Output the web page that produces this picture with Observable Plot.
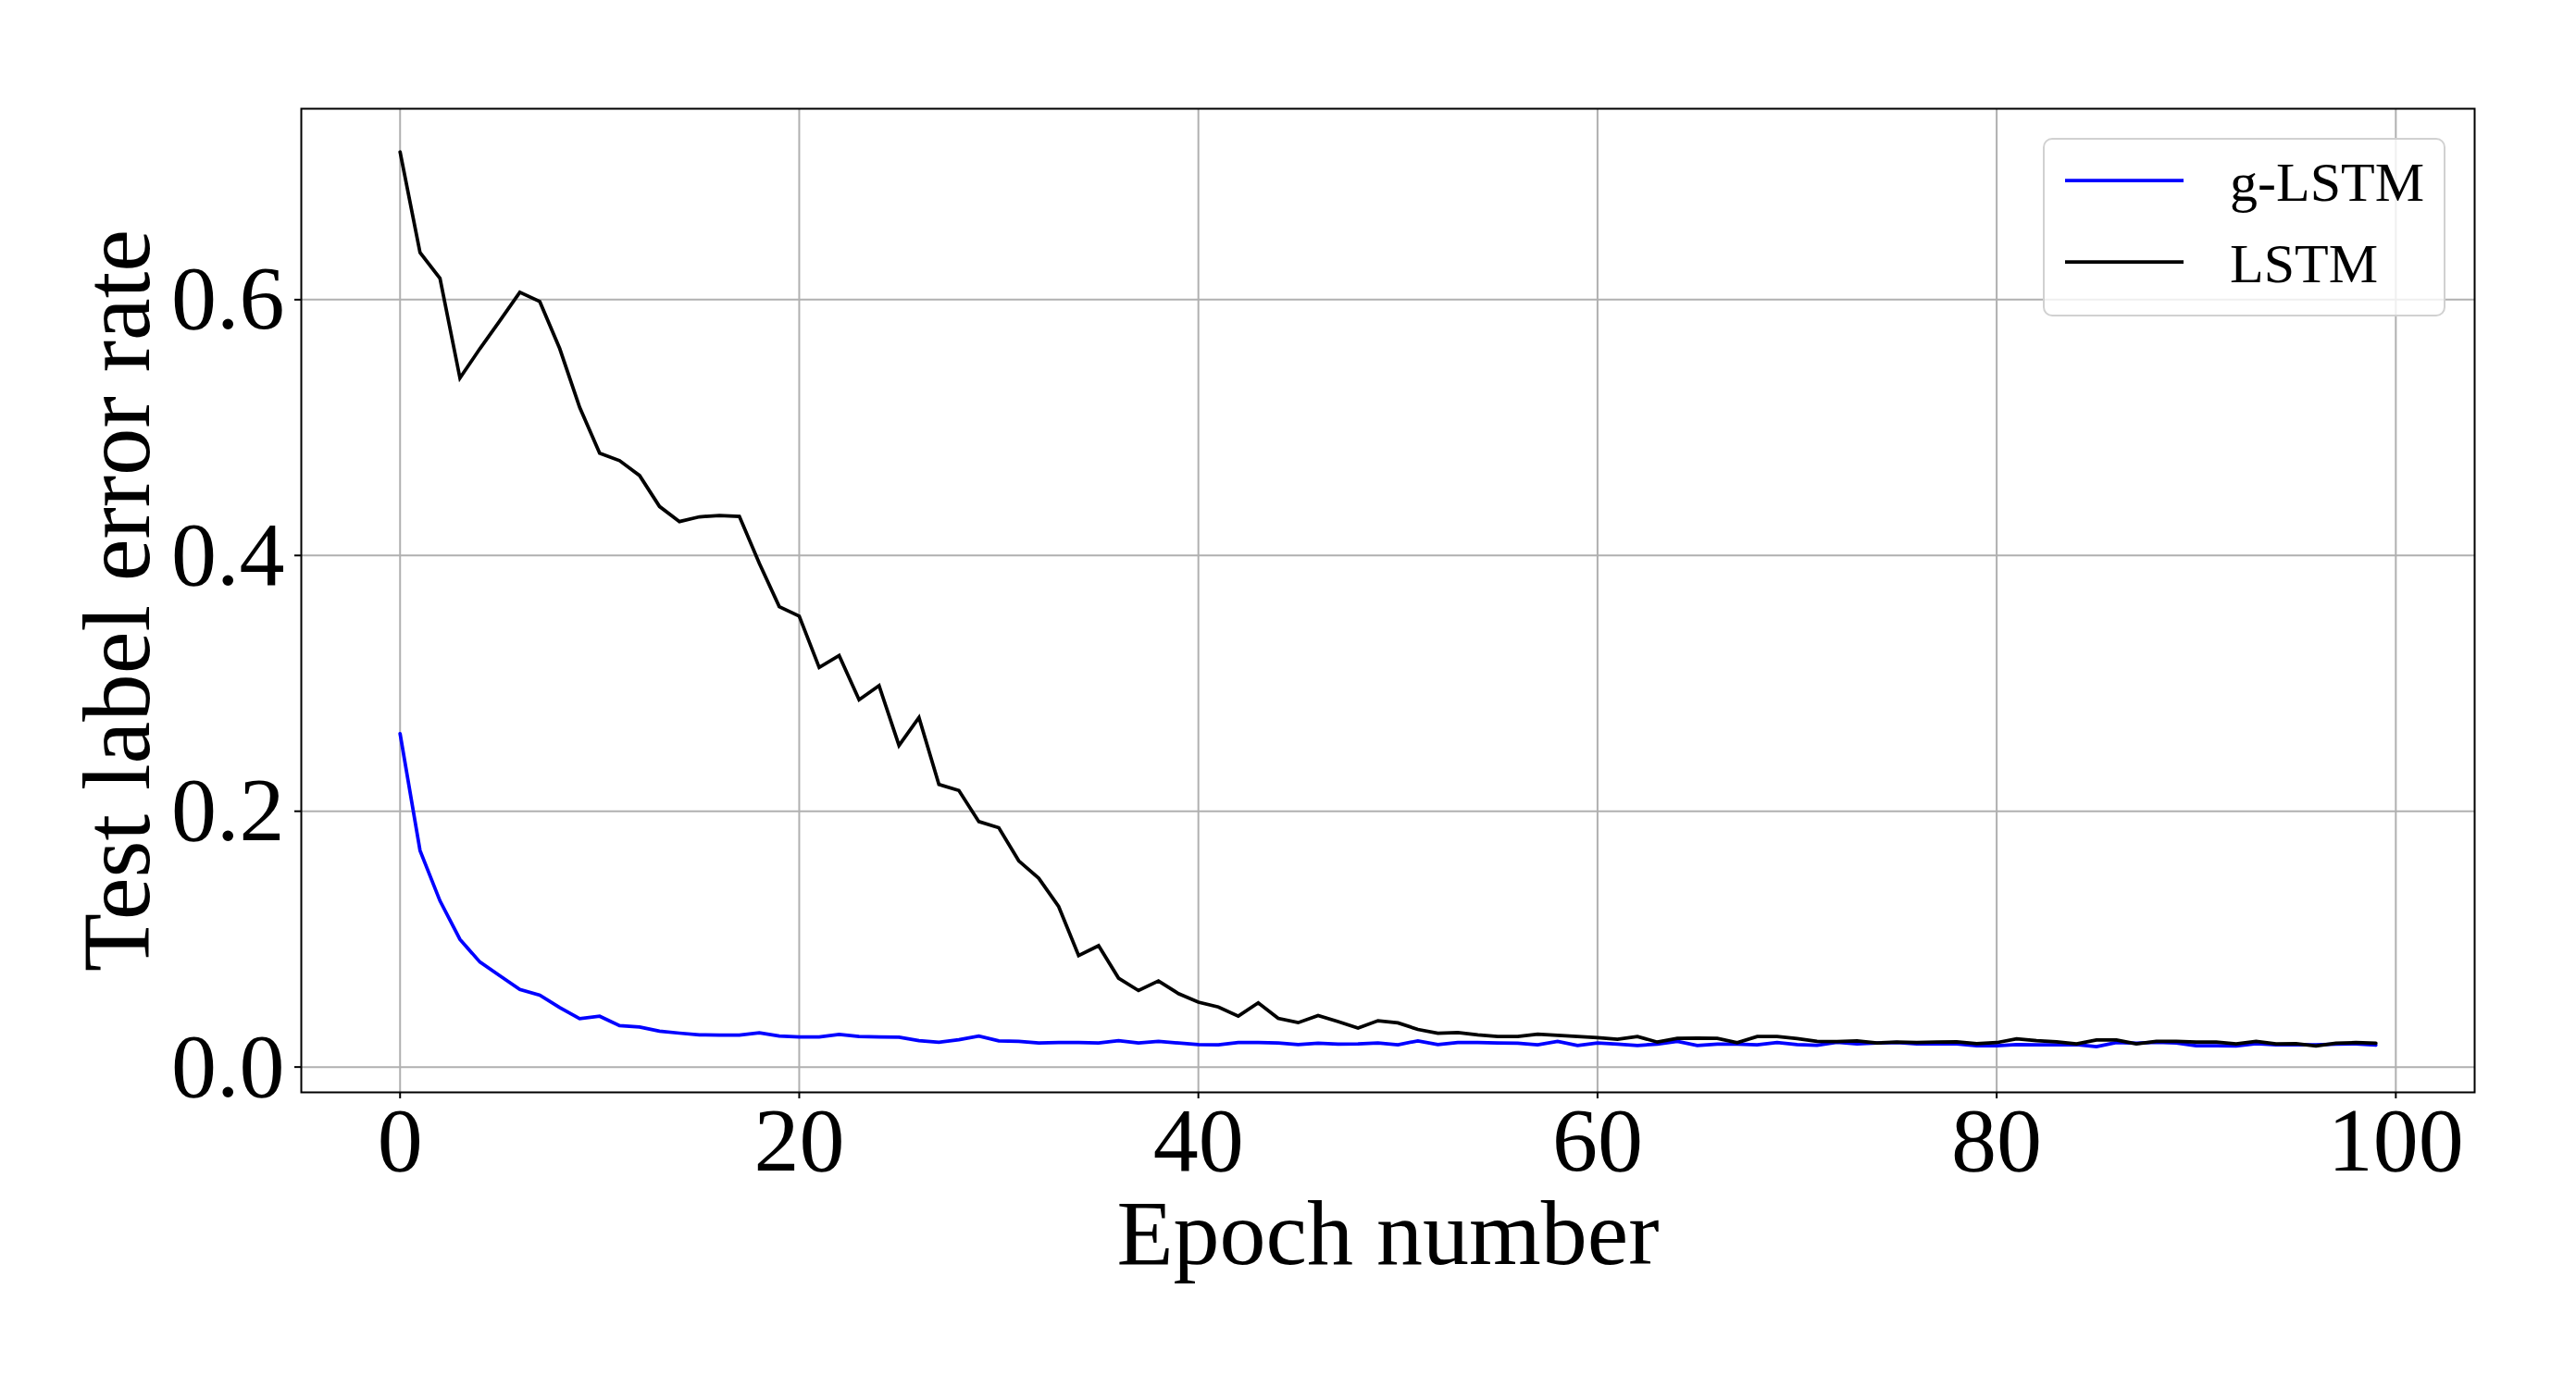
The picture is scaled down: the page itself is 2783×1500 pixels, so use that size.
<!DOCTYPE html>
<html>
<head>
<meta charset="utf-8">
<script src="https://cdn.jsdelivr.net/npm/d3@7"></script>
<script src="https://cdn.jsdelivr.net/npm/@observablehq/plot@0.6"></script>
<style>
  html, body { margin: 0; padding: 0; background: #fff; }
  #wrap { position: relative; width: 2783px; height: 1500px; }
  #legend { position: absolute; left: 2207px; top: 149px; width: 435px; height: 193px;
            box-sizing: border-box; border: 2px solid rgba(204,204,204,0.9); border-radius: 10px;
            background: rgba(255,255,255,0.8); }
  #legend svg { position: absolute; left: 0; top: 0; overflow: visible; }
</style>
</head>
<body>
<div id="wrap"></div>
<script>
// ---- data ----
const seriesNames = ["g-LSTM", "LSTM"];
const seriesColors = ["blue", "black"];
const xTicks = [0, 20, 40, 60, 80, 100];
const yTicks = [0.0, 0.2, 0.4, 0.6];
const xLabel = "Epoch number";
const yLabel = "Test label error rate";

const gLSTM = [
  0.2607, 0.1693, 0.1299, 0.0998, 0.0821, 0.0714, 0.0607, 0.0562, 0.0465, 0.0378,
  0.0397, 0.0323, 0.0313, 0.0281, 0.0265, 0.0252, 0.0249, 0.0249, 0.0268, 0.0242,
  0.0236, 0.0236, 0.0255, 0.0239, 0.0236, 0.0233, 0.0207, 0.0194, 0.0213, 0.0242,
  0.0204, 0.0200, 0.0188, 0.0192, 0.0192, 0.0188, 0.0207, 0.0188, 0.0200, 0.0188,
  0.0176, 0.0174, 0.0191, 0.0191, 0.0188, 0.0176, 0.0186, 0.0179, 0.0181, 0.0188,
  0.0174, 0.0205, 0.0176, 0.0191, 0.0191, 0.0188, 0.0186, 0.0174, 0.0200, 0.0169,
  0.0188, 0.0179, 0.0169, 0.0179, 0.0200, 0.0169, 0.0179, 0.0179, 0.0174, 0.0191,
  0.0176, 0.0171, 0.0193, 0.0181, 0.0188, 0.0191, 0.0181, 0.0183, 0.0181, 0.0166,
  0.0166, 0.0176, 0.0174, 0.0174, 0.0176, 0.0159, 0.0191, 0.0186, 0.0193, 0.0188,
  0.0166, 0.0166, 0.0164, 0.0183, 0.0174, 0.0174, 0.0174, 0.0179, 0.0181, 0.0171
];

const LSTM = [
  0.7155, 0.6368, 0.6167, 0.5387, 0.5617, 0.5835, 0.6058, 0.5985, 0.5617, 0.5157,
  0.4799, 0.4741, 0.4625, 0.4383, 0.4265, 0.4302, 0.4313, 0.4305, 0.3939, 0.3600,
  0.3525, 0.3124, 0.3218, 0.2872, 0.2982, 0.2514, 0.2733, 0.2210, 0.2162, 0.1919,
  0.1871, 0.1612, 0.1476, 0.1255, 0.0872, 0.0949, 0.0695, 0.0598, 0.0673, 0.0574,
  0.0507, 0.0470, 0.0398, 0.0502, 0.0381, 0.0347, 0.0403, 0.0355, 0.0304, 0.0362,
  0.0345, 0.0294, 0.0265, 0.0270, 0.0251, 0.0239, 0.0239, 0.0256, 0.0248, 0.0239,
  0.0229, 0.0217, 0.0239, 0.0195, 0.0224, 0.0227, 0.0224, 0.0191, 0.0239, 0.0238,
  0.0222, 0.0201, 0.0199, 0.0205, 0.0188, 0.0195, 0.0191, 0.0195, 0.0198, 0.0183,
  0.0191, 0.0220, 0.0207, 0.0198, 0.0181, 0.0212, 0.0212, 0.0181, 0.0200, 0.0200,
  0.0195, 0.0195, 0.0181, 0.0200, 0.0181, 0.0183, 0.0164, 0.0186, 0.0191, 0.0186
];

const series = [gLSTM, LSTM];
const rows = series.flatMap((vals, s) => vals.map((v, i) => ({epoch: i, value: v, name: seriesNames[s]})));

const FONT = "'Liberation Serif', 'DejaVu Serif', serif";

const chart = Plot.plot({
  width: 2783,
  height: 1500,
  marginLeft: 325,
  marginRight: 110,
  marginTop: 117,
  marginBottom: 320,
  style: {fontFamily: FONT, background: "white", color: "black", overflow: "visible"},
  x: {domain: [-4.95, 103.95]},
  y: {domain: [-0.0198, 0.7493]},
  color: {domain: seriesNames, range: seriesColors},
  marks: [
    Plot.gridX(xTicks, {stroke: "#b0b0b0", strokeOpacity: 1, strokeWidth: 2}),
    Plot.gridY(yTicks, {stroke: "#b0b0b0", strokeOpacity: 1, strokeWidth: 2}),
    Plot.line(rows, {x: "epoch", y: "value", z: "name", stroke: "name", strokeWidth: 3.75, strokeLinejoin: "miter", strokeMiterlimit: 4}),
    Plot.frame({stroke: "black", strokeWidth: 2}),
    Plot.axisX(xTicks, {tickSize: 7, tickPadding: 8, fontSize: 98, strokeWidth: 2, label: null}),
    Plot.axisY(yTicks, {tickSize: 7, tickPadding: 11, fontSize: 98, strokeWidth: 2, tickFormat: d3.format(".1f"), label: null}),
    Plot.text([xLabel], {text: d => d, frameAnchor: "bottom", lineAnchor: "middle", textAnchor: "middle", dy: 153, fontSize: 100}),
    Plot.text([yLabel], {text: d => d, frameAnchor: "left", lineAnchor: "middle", textAnchor: "middle", rotate: -90, dx: -197, fontSize: 103, letterSpacing: "2px"})
  ]
});

const wrap = document.getElementById("wrap");
wrap.appendChild(chart);

// ---- legend (overlay, like matplotlib's in-axes legend) ----
const legend = document.createElement("div");
legend.id = "legend";
wrap.appendChild(legend);
const lsvg = d3.select(legend).append("svg").attr("width", 435).attr("height", 193);
seriesNames.forEach((name, i) => {
  const cy = 44 + i * 88;
  lsvg.append("line").attr("x1", 22).attr("x2", 150).attr("y1", cy).attr("y2", cy)
    .attr("stroke", seriesColors[i]).attr("stroke-width", 3.75);
  lsvg.append("text").attr("x", 200).attr("y", cy + 22).attr("font-family", FONT)
    .attr("font-size", 60).attr("fill", "black").text(name);
});
</script>
</body>
</html>
